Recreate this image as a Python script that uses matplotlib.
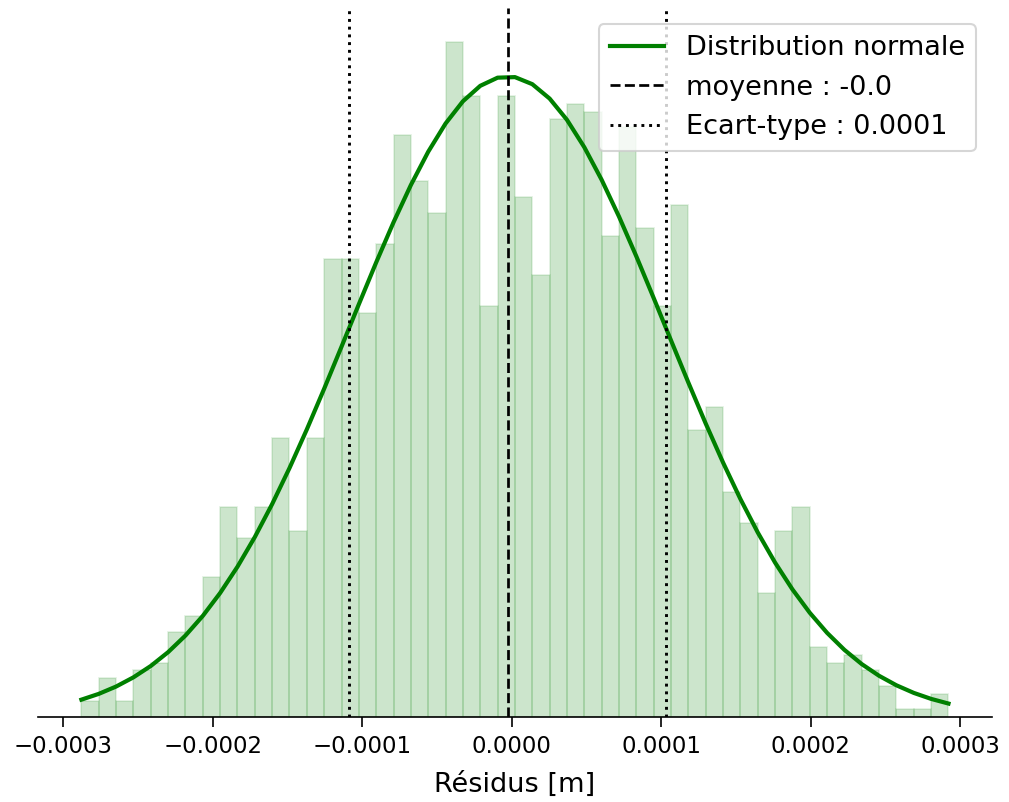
import numpy as np
import matplotlib
matplotlib.use("Agg")
import matplotlib.pyplot as plt

# histogram of residuals [m], 50 bins
x_min = -2.878e-4
x_max = 2.923e-4
counts = [2, 5, 2, 6, 7, 11, 13, 18, 27, 23,
          27, 36, 24, 36, 59, 59, 52, 61, 75, 69,
          65, 87, 80, 53, 80, 67, 57, 77, 79, 78,
          62, 76, 63, 53, 66, 37, 40, 29, 25, 16,
          24, 27, 9, 7, 8, 6, 4, 1, 1, 3]

# fitted normal distribution
mean = -2.7e-6
std = 1.061e-4

edges = np.linspace(x_min, x_max, len(counts) + 1)
centers = (edges[:-1] + edges[1:]) / 2

fig = plt.figure(figsize=(1009 / 150, 802 / 150), dpi=150)
ax = fig.add_axes([0.0377, 0.106, 0.9453, 0.884])

ax.hist(centers, bins=edges, weights=counts, density=True,
        facecolor=(0, 0.5, 0, 0.2), edgecolor=(0, 0.5, 0, 0.12), linewidth=0.8)

pdf = np.exp(-0.5 * ((edges - mean) / std) ** 2) / (std * np.sqrt(2 * np.pi))
ax.plot(edges, pdf, color='green', lw=2, label='Distribution normale')

ax.axvline(mean, color='black', ls='--', lw=1.3, label='moyenne : ' + str(round(mean, 4)))
ax.axvline(mean - std, color='black', ls=':', lw=1.4, label='Ecart-type : ' + str(round(std, 4)))
ax.axvline(mean + std, color='black', ls=':', lw=1.4)

ax.set_xlabel('Résidus [m]', fontsize=13, labelpad=7)
ax.tick_params(axis='x', labelsize=11, length=5)
ax.set_yticks([])
for s in ['left', 'top', 'right']:
    ax.spines[s].set_visible(False)

ax.legend(loc='upper right', fontsize=13, borderaxespad=0.6)

fig.savefig('out.png', dpi=150)
